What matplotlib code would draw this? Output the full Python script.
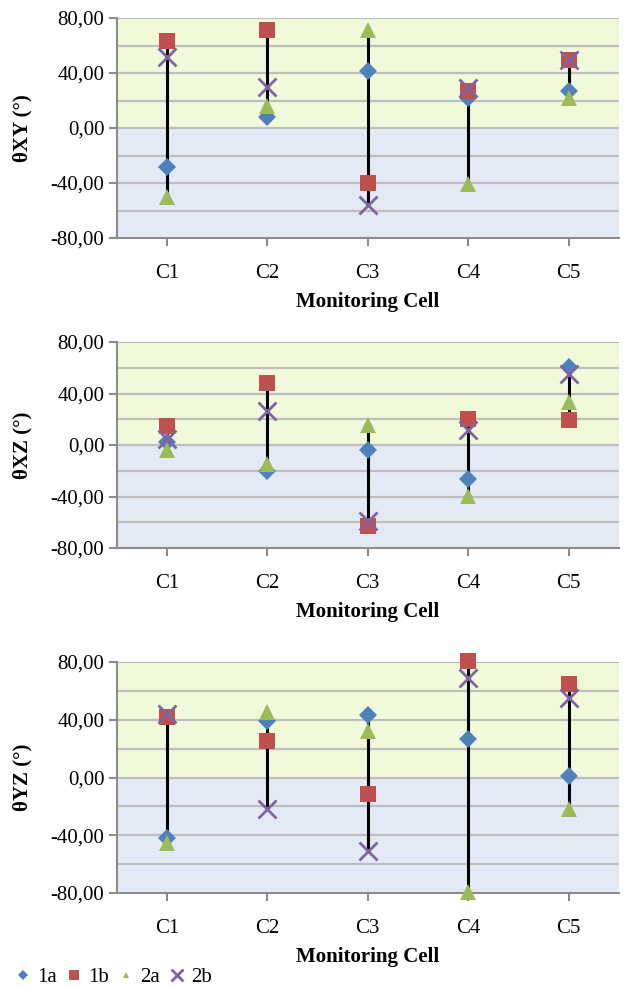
import matplotlib.pyplot as plt
import numpy as np

cells = ['C1', 'C2', 'C3', 'C4', 'C5']

# theta XY
xy_1a = [-28.6, 7.8, 41.7, 22.0, 26.7]
xy_1b = [63.5, 71.3, -40.2, 26.7, 49.7]
xy_2a = [-50.4, 16.2, 71.3, -40.7, 21.8]
xy_2b = [51.4, 30.0, -55.8, 29.0, 49.7]

# theta XZ
xz_1a = [2.3, -20.0, -3.6, -26.7, 60.7]
xz_1b = [14.4, 48.3, -62.7, 20.3, 19.5]
xz_2a = [-4.1, -14.4, 15.2, -39.3, 33.2]
xz_2b = [4.9, 26.7, -59.4, 11.3, 55.0]

# theta YZ
yz_1a = [-42.2, 39.2, 43.4, 26.6, 0.7]
yz_1b = [42.0, 25.5, -11.2, 80.6, 65.0]
yz_2a = [-45.7, 45.7, 31.9, -79.0, -21.6]
yz_2b = [43.8, -21.6, -50.7, 68.6, 55.3]

ylabels = ['θXY (°)', 'θXZ (°)', 'θYZ (°)']
series_names = ['1a', '1b', '2a', '2b']
colors = ['#4F81BD', '#C0504D', '#9BBB59', '#8064A2']
markers = ['D', 's', '^', 'x']
msizes = [9, 12, 11, 13]

plt.rcParams['font.family'] = ['Liberation Serif', 'DejaVu Serif']

fig = plt.figure(figsize=(6.25, 9.86), dpi=100)

# axes boxes in figure fractions (left, bottom, width, height)
boxes = [
    [0.187, 0.7586, 0.803, 0.2231],
    [0.187, 0.4442, 0.803, 0.2089],
    [0.187, 0.0943, 0.803, 0.2343],
]

panels = [
    [xy_1a, xy_1b, xy_2a, xy_2b],
    [xz_1a, xz_1b, xz_2a, xz_2b],
    [yz_1a, yz_1b, yz_2a, yz_2b],
]

x = np.arange(len(cells))
for box, data, ylab in zip(boxes, panels, ylabels):
    ax = fig.add_axes(box)
    ax.set_xlim(-0.5, 4.5)
    ax.set_ylim(-80, 80)
    ax.axhspan(0, 80, color='#F0FADA', zorder=0)
    ax.axhspan(-80, 0, color='#E4EAF5', zorder=0)
    for g in range(-60, 81, 20):
        ax.axhline(g, color='#BEBEBE', lw=1.6, zorder=1)

    arr = np.array(data)
    ax.vlines(x, arr.min(axis=0), arr.max(axis=0), color='black', lw=2.2, zorder=2)

    for vals, c, m, ms, name in zip(data, colors, markers, msizes, series_names):
        if m == 'x':
            ax.plot(x, vals, ls='none', marker=m, color=c, ms=ms, mew=2, zorder=3, clip_on=False)
        else:
            ax.plot(x, vals, ls='none', marker=m, color=c, ms=ms, mew=0, zorder=3, clip_on=False)

    ax.set_yticks([-80, -40, 0, 40, 80])
    ax.set_yticklabels(['{:.2f}'.format(v).replace('.', ',') for v in [-80, -40, 0, 40, 80]], fontsize=15)
    ax.set_xticks(x)
    ax.set_xticklabels(cells, fontsize=15)
    ax.tick_params(axis='both', color='#8C8C8C', width=1.5, length=6)
    ax.tick_params(axis='x', pad=13)
    ax.tick_params(axis='y', pad=3)
    ax.set_ylabel(ylab, fontsize=15, fontweight='bold', labelpad=13)
    ax.set_xlabel('Monitoring Cell', fontsize=15, fontweight='bold', labelpad=6)
    for s in ['top', 'right']:
        ax.spines[s].set_visible(False)
    for s in ['left', 'bottom']:
        ax.spines[s].set_color('#8C8C8C')
        ax.spines[s].set_linewidth(1.5)

leg_handles = []
for c, m, name in zip(colors, markers, series_names):
    if m == 'x':
        leg_handles.append(plt.Line2D([], [], ls='none', marker=m, color=c, ms=8, mew=2, label=name))
    elif m == 's':
        leg_handles.append(plt.Line2D([], [], ls='none', marker=m, color=c, ms=7, mew=0, label=name))
    else:
        leg_handles.append(plt.Line2D([], [], ls='none', marker=m, color=c, ms=5, mew=0, label=name))
fig.legend(handles=leg_handles, loc='center left', bbox_to_anchor=(0.013, 1 - 977 / 986), ncol=4,
           frameon=False, fontsize=15, handlelength=0.8, handletextpad=0.3, columnspacing=0.4,
           borderaxespad=0.0, borderpad=0.3)

fig.savefig('out.png', dpi=100)
